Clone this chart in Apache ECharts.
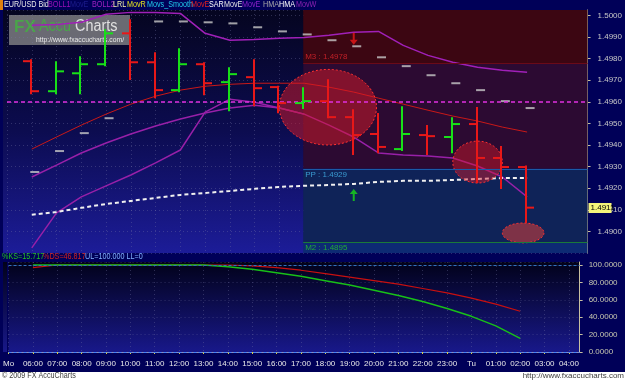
<!DOCTYPE html>
<html><head><meta charset="utf-8">
<script src="https://cdn.jsdelivr.net/npm/echarts@6/dist/echarts.min.js"></script>
<style>html,body{margin:0;padding:0;background:#000058;overflow:hidden}#c{width:625px;height:380px}</style>
</head><body><div id="c"></div>
<script>
// ---------- data ----------
const hours = [6,7,8,9,10,11,12,13,14,15,16,17,18,19,20,21,22,23,24,25,26];
const openP  = [1.49788,1.49649,1.49732,1.49774,1.49917,1.49783,1.49654,1.49774,1.49691,1.49714,1.49668,1.49594,1.49603,1.49529,1.49451,1.49381,1.49446,1.49437,1.49497,1.49340,1.49298];
const highP  = [1.49792,1.49783,1.49806,1.49931,1.49977,1.49825,1.49843,1.49778,1.49755,1.49792,1.49670,1.49663,1.49700,1.49561,1.49543,1.49575,1.49488,1.49524,1.49571,1.49391,1.49300];
const lowP   = [1.49640,1.49640,1.49640,1.49769,1.49705,1.49621,1.49649,1.49635,1.49561,1.49584,1.49552,1.49571,1.49529,1.49358,1.49367,1.49377,1.49358,1.49367,1.49229,1.49201,1.49044];
const closeP = [1.49649,1.49741,1.49774,1.49917,1.49783,1.49654,1.49774,1.49686,1.49728,1.49663,1.49594,1.49603,1.49529,1.49446,1.49391,1.49451,1.49441,1.49497,1.49340,1.49298,1.49110];
const sarHours = [6,7,8,9,11,12,13,14,15,16,17,18,19,20,21,22,23,24,25,26];
const sarVals  = [1.49275,1.49372,1.49455,1.49524,1.49972,1.49972,1.49968,1.49963,1.49945,1.49926,1.49912,1.49885,1.49857,1.49806,1.49765,1.49723,1.49686,1.49654,1.49603,1.49571];
const upperBand = [1.49954,1.49958,1.49968,1.50005,1.50014,1.50014,1.50009,1.49917,1.49885,1.49889,1.49894,1.49898,1.49908,1.49922,1.49926,1.49861,1.49815,1.49783,1.49760,1.49746,1.49737];
const lrlLine   = [1.49381,1.49437,1.49492,1.49543,1.49589,1.49626,1.49654,1.49672,1.49681,1.49686,1.49686,1.49686,1.49668,1.49645,1.49617,1.49589,1.49561,1.49534,1.49511,1.49483,1.49460];
const midLine   = [1.49252,1.49307,1.49363,1.49409,1.49451,1.49488,1.49520,1.49548,1.49571,1.49584,1.49571,1.49543,1.49492,1.49437,1.49363,1.49354,1.49349,1.49340,1.49303,1.49252,1.49160];
const lowerHours = [6,7,8,9,10,11,12,13,14,15,16,17];
const lowerLine  = [1.48924,1.49086,1.49160,1.49211,1.49261,1.49317,1.49377,1.49552,1.49612,1.49598,1.49571,1.49543];
const movELine  = [1.49077,1.49090,1.49109,1.49127,1.49141,1.49155,1.49169,1.49178,1.49187,1.49197,1.49206,1.49211,1.49215,1.49220,1.49229,1.49234,1.49234,1.49238,1.49243,1.49247,1.49247];
const pivotNames  = ['M3','PP','M2'];
const pivotValues = [1.4978,1.4929,1.4895];
const pivotStart = 16.96;
const refLevel = 1.4960;
const lastPrice = 1.4911;
const stochK = [100,100,100,100,100,100,100,100,98,95,91,87,82,77,71,65,58,50,41,30,15.717];
const stochD = [97,100,100,100,100,100,100,100,100,99,97,94,90,86,82,78,73,68,62,55,46.817];
const ellipseCenters = [[17.96,1.49575],[24,1.49321],[25.84,1.48993]];
const ellipseSpans   = [[1.96,0.00175],[1.0,0.00097],[0.84,0.00046]];
const downArrows = [[19,1.49892]];
const upArrows   = [[19,1.49169]];
const timeTickLabels = ['Mo','06:00','07:00','08:00','09:00','10:00','11:00','12:00','13:00','14:00','15:00','16:00','17:00','18:00','19:00','20:00','21:00','22:00','23:00','Tu','01:00','02:00','03:00','04:00'];
const xMin = 5, xMax = 28.44;
const yMin = 1.489, yMax = 1.50025;

// ---------- styles ----------
const FONT = "'Liberation Sans',sans-serif";
const pivotColors = ['#c02028','#3a9ad0','#22a83a'];
const pivotLineColors = ['#6a0a18','#1a5aa8','#1a7a3a'];
const zoneColors = ['#3c0612','#2c0a32','#0f2358','#0d2a74'];
const gridLine = {show:true, lineStyle:{color:'rgba(120,120,170,0.35)', type:[1,3], width:1}};
const pair = (xs, ys) => xs.map((h,i)=>[h, ys[i]]);

const chart = echarts.init(document.getElementById('c'));

function renderOHLC(params, api){
  const x = api.value(0), o = api.value(1), h = api.value(2), l = api.value(3), c = api.value(4);
  const pO = api.coord([x,o]), pH = api.coord([x,h]), pL = api.coord([x,l]), pC = api.coord([x,c]);
  const col = c >= o ? '#18e018' : '#e81818';
  const w = 8, X = Math.round(pO[0]) - 1;
  const st = {stroke:col, lineWidth:2};
  return {type:'group', children:[
    {type:'line', shape:{x1:X, y1:pH[1]-1, x2:X, y2:pL[1]+1}, style:st},
    {type:'line', shape:{x1:X-w, y1:pO[1], x2:X, y2:pO[1]}, style:st},
    {type:'line', shape:{x1:X, y1:pC[1], x2:X+w, y2:pC[1]}, style:st}
  ]};
}
function renderEllipse(params, api){
  const c = api.coord([api.value(0), api.value(1)]);
  const s = api.size([api.value(2), api.value(3)]);
  const pts = [];
  for (let k=0;k<72;k++){ const a = k/72*Math.PI*2; pts.push([c[0]+s[0]*Math.cos(a), c[1]+s[1]*Math.sin(a)]); }
  const fills = ['rgba(215,25,40,0.5)','rgba(215,25,40,0.45)','rgba(200,60,60,0.6)'];
  return {type:'polygon', shape:{points:pts}, style:{fill:fills[params.dataIndex], stroke:'#ff3030', lineWidth:1, lineDash:[2,2]}};
}
function renderPriceTag(params, api){
  const p = api.coord([xMax, api.value(0)]);
  return {type:'group', children:[
    {type:'rect', shape:{x:p[0]+1, y:Math.round(p[1])-5, width:23, height:10}, style:{fill:'#f4f47a'}},
    {type:'text', x:p[0]+3, y:Math.round(p[1]), style:{text:api.value(0).toFixed(4), fill:'#000000', font:'8px '+FONT, textVerticalAlign:'middle'}}
  ]};
}

const legendItems = [
  ['EUR/USD Bid',4,'#e8e8e8'],['BOLL1',48,'#9a10b8'],['MovE',70,'#1c1c8c'],['BOLL2',92,'#a020c0'],
  ['LRL',113,'#f0f0a8'],['MovR',127,'#e0e020'],['Movs_Smooth',147,'#20c8e8'],['MovE',191,'#e02020'],
  ['SAR',209,'#ffffff'],['MovE',224,'#e0e0e0'],['MovE',242,'#8a20c8'],['HMA',263,'#a8a8a8'],
  ['HMA',279,'#ffffff'],['MovW',296,'#8a20b0']
];
const smallText = (txt, x, y, fill, extra) => Object.assign({type:'text', x:x, y:y, scaleX:0.8,
  style:{text:txt, fill:fill, font:'9px '+FONT, textVerticalAlign:'middle'}}, extra||{});
const graphics = [
  {type:'rect', shape:{x:0,y:372,width:625,height:8}, style:{fill:'#ffffff'}, silent:true},
  {type:'rect', shape:{x:0,y:0,width:3,height:10}, style:{fill:'#e08010'}},
  {type:'rect', shape:{x:3,y:10,width:4,height:243}, style:{fill:new echarts.graphic.LinearGradient(0,0,0,1,[{offset:0,color:'#050520'},{offset:0.5,color:'#0c0c50'},{offset:1,color:'#1c1c98'}])}},
  {type:'rect', shape:{x:3,y:262,width:4,height:90}, style:{fill:new echarts.graphic.LinearGradient(0,0,0,1,[{offset:0,color:'#02021a'},{offset:1,color:'#18188a'}])}},
  smallText('\u00a9 2009 FX AccuCharts', 2, 376, '#404040'),
  {type:'text', x:624, y:376, style:{text:'http://www.fxaccucharts.com', fill:'#404040', font:'8px '+FONT, textAlign:'right', textVerticalAlign:'middle'}},
  smallText('%KS='+stochK[stochK.length-1].toFixed(3), 2, 257, '#20c020'),
  smallText('%DS='+stochD[stochD.length-1].toFixed(3), 43, 257, '#d02020'),
  smallText('UL=100.000 LL=0', 85, 257, '#80b0ff'),
  {type:'group', z:100, children:[
    {type:'rect', shape:{x:9,y:15,width:121,height:30}, style:{fill:'rgba(140,140,140,0.75)'}},
    {type:'text', x:14, y:27, style:{text:'FX', fill:'#4aa44a', font:'bold 17px '+FONT, textVerticalAlign:'middle'}},
    {type:'text', x:39, y:27, scaleX:0.9, style:{text:'Accu', fill:'#4aa44a', font:'16px '+FONT, textVerticalAlign:'middle'}},
    {type:'text', x:75, y:27, scaleX:0.9, style:{text:'Charts', fill:'#e0e0e0', font:'16px '+FONT, textVerticalAlign:'middle'}},
    {type:'text', x:36, y:40, scaleX:0.85, style:{text:'http://www.fxaccucharts.com/', fill:'#e8e8e8', font:'8px '+FONT, textVerticalAlign:'middle'}}
  ]}
];
legendItems.forEach(it => graphics.push(smallText(it[0], it[1], 5, it[2])));

const zoneBounds = [yMax, pivotValues[0], pivotValues[1], pivotValues[2], yMin];
const zoneData = zoneColors.map((col,i)=>[{coord:[pivotStart, zoneBounds[i]], itemStyle:{color:col}},{coord:[xMax, zoneBounds[i+1]]}]);
const levelData = pivotValues.map((v,i)=>[
  {coord:[pivotStart, v], lineStyle:{color:pivotLineColors[i], width:1, type:'solid'},
   label:{show:true, position: i===0 ? 'insideStartTop' : 'insideStartBottom', distance:2, color:pivotColors[i], fontSize:8, fontFamily:FONT, formatter: pivotNames[i]+' : '+v.toFixed(4)}},
  {coord:[xMax, v]}
]);

const option = {
  animation:false,
  backgroundColor:'#000058',
  graphic: graphics,
  grid:[
    {left:7, right:32, top:10, height:243, show:true, borderWidth:0,
     backgroundColor:{type:'linear',x:0,y:0,x2:0,y2:1,colorStops:[{offset:0,color:'#050520'},{offset:0.5,color:'#0c0c50'},{offset:1,color:'#1c1c98'}]}},
    {left:7, right:32, top:262, height:90, show:true, borderWidth:0,
     backgroundColor:{type:'linear',x:0,y:0,x2:0,y2:1,colorStops:[{offset:0,color:'#02021a'},{offset:1,color:'#18188a'}]}}
  ],
  xAxis:[
    {type:'value', gridIndex:0, min:xMin, max:xMax, interval:1, axisLine:{show:false}, axisTick:{show:false}, axisLabel:{show:false}, splitLine:gridLine},
    {type:'value', gridIndex:1, min:xMin, max:xMax, interval:1,
     axisLine:{show:true, lineStyle:{color:'#9090b8'}}, axisTick:{show:true, length:2, lineStyle:{color:'#d8d040'}},
     axisLabel:{show:true, margin:8, color:'#e8e8e8', fontSize:8, fontFamily:FONT, showMaxLabel:false,
       formatter:v => { const i = Math.round(v - xMin); return Math.abs(v - Math.round(v))<1e-6 && timeTickLabels[i] ? timeTickLabels[i] : ''; }},
     splitLine:gridLine}
  ],
  yAxis:[
    {type:'value', gridIndex:0, position:'right', min:yMin, max:yMax, interval:0.001,
     axisLine:{show:true, lineStyle:{color:'#c8c0a0'}}, axisTick:{show:true, length:3, lineStyle:{color:'#c8c0a0'}},
     axisLabel:{margin:10, color:'#c8c8c8', fontSize:8, fontFamily:FONT, showMinLabel:false, showMaxLabel:false, formatter:v=>v.toFixed(4)},
     splitLine:gridLine},
    {type:'value', gridIndex:1, position:'right', min:0, max:103.45, interval:20,
     axisLine:{show:true, lineStyle:{color:'#c8c0a0'}}, axisTick:{show:true, length:3, lineStyle:{color:'#c8c0a0'}},
     axisLabel:{margin:9, color:'#c8c8b0', fontSize:8, fontFamily:FONT, showMaxLabel:false, formatter:v=>v.toFixed(4)},
     splitLine:gridLine}
  ],
  series:[
    {type:'line', xAxisIndex:0, yAxisIndex:0, data:[], z:1, silent:true,
     markArea:{silent:true, data:zoneData},
     markLine:{silent:true, symbol:['none','none'], data:[
       ...levelData,
       [{coord:[xMin, refLevel], lineStyle:{color:'#e030e0', type:[4,3], width:1.5}, label:{show:false}},{coord:[xMax, refLevel]}]
     ]}},
    {type:'line', data:pair(hours, upperBand), symbol:'none', z:2, lineStyle:{color:'#a020b8', width:1.5}},
    {type:'line', data:pair(hours, lrlLine), symbol:'none', z:2, lineStyle:{color:'#c81818', width:1}},
    {type:'line', data:pair(hours, midLine), symbol:'none', z:2, lineStyle:{color:'#9820a8', width:1.5}},
    {type:'line', data:pair(lowerHours, lowerLine), symbol:'none', z:2, lineStyle:{color:'#9820a8', width:1.5}},
    {type:'line', data:pair(hours, movELine), symbol:'none', z:2, lineStyle:{color:'#f0f0f0', width:2, type:[4,3]}},
    {type:'custom', data:ellipseCenters.map((c,i)=>[c[0],c[1],ellipseSpans[i][0],ellipseSpans[i][1]]), renderItem:renderEllipse, z:3, silent:true},
    {type:'scatter', data:pair(sarHours, sarVals), symbol:'rect', symbolSize:[9,2], symbolOffset:[3,0], z:4, itemStyle:{color:'#c8c8c8'}},
    {type:'custom', data:hours.map((h,i)=>[h,openP[i],highP[i],lowP[i],closeP[i]]), encode:{x:0, y:[1,2,3,4]}, renderItem:renderOHLC, z:5},
    {type:'scatter', data:downArrows, symbol:'path://M3,0L5,0L5,7L8,7L4,12L0,7L3,7Z', symbolSize:[8,12], z:6, itemStyle:{color:'#e81818'}},
    {type:'scatter', data:upArrows, symbol:'path://M4,0L8,5L5,5L5,12L3,12L3,5L0,5Z', symbolSize:[8,12], z:6, itemStyle:{color:'#18d818'}},
    {type:'custom', data:[[lastPrice]], encode:{y:0}, renderItem:renderPriceTag, clip:false, z:20, silent:true},
    {type:'line', xAxisIndex:1, yAxisIndex:1, data:pair(hours, stochD), symbol:'none', z:2, lineStyle:{color:'#c81010', width:1.2},
     markLine:{silent:true, symbol:['none','none'], label:{show:false}, data:[
       {yAxis:100, lineStyle:{color:'#3070c0', type:[3,2], width:1}},
       {yAxis:0, lineStyle:{color:'#4080ff', type:[3,2], width:1}}
     ]}},
    {type:'line', xAxisIndex:1, yAxisIndex:1, data:pair(hours, stochK), symbol:'none', z:3, lineStyle:{color:'#18c018', width:1.5}}
  ]
};
chart.setOption(option);
</script>
</body></html>
